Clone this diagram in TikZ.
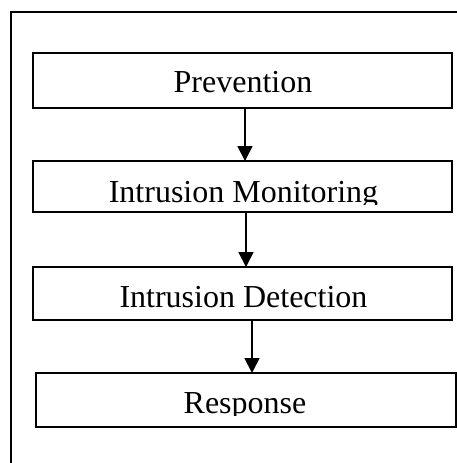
\documentclass[tikz,border=0pt]{standalone}
\usepackage{fontspec}
\setmainfont{Liberation Serif}
\usetikzlibrary{arrows.meta}

\tikzset{
  stage/.style={draw, line width=0.9pt, minimum width=209.5pt, inner sep=0pt, outer sep=0pt},
  stagetext/.style={anchor=base, inner sep=0pt, font=\fontsize{16}{19}\selectfont},
  flow/.style={line width=0.9pt, -{Triangle[width=7.5pt,length=7.5pt]}}
}

\begin{document}
\begin{tikzpicture}[x=0.5pt,y=-0.5pt]
    \useasboundingbox (0,0) rectangle (457,463);

    % --- Outer frame ---
    % only its left and top edges fall inside the page
    \coordinate (FL) at (11,463);
    \coordinate (FC) at (11,12);
    \coordinate (FR) at (457,12);
    \draw[line width=0.9pt] (FL) -- (FC) -- (FR);

    % --- Stage boxes ---
    \node[stage, minimum height=27.5pt] (prev) at (242.5,80.5) {};
    \node[stage, minimum height=25.5pt] (mon) at (242.5,186.5) {};
    \node[stage, minimum height=26.5pt] (det) at (242.5,293.5) {};
    \node[stage, minimum height=27pt, minimum width=210pt] (resp) at (246,400) {};

    % --- Stage texts ---
    \node[stagetext] (prevtext) at (243,92) {Prevention};
    \begin{scope}
        % descenders cut off by the text frame
        \clip (mon.north west) rectangle ([yshift=4pt]mon.south east);
        \node[stagetext] (montext) at (243.5,202) {Intrusion Monitoring};
    \end{scope}
    \node[stagetext] (dettext) at (243.5,307) {Intrusion Detection};
    \begin{scope}
        \clip (resp.north west) rectangle ([yshift=6pt]resp.south east);
        \node[stagetext] (resptext) at (245,413) {Response};
    \end{scope}

    % --- Arrows between stages ---
    \draw[flow] ([xshift=1.25pt]prev.south) -- ([xshift=1.25pt]mon.north);
    \draw[flow] ([xshift=1.75pt]mon.south) -- ([xshift=1.75pt]det.north);
    \draw[flow] ([xshift=4.75pt]det.south) -- ([xshift=3pt]resp.north);

\end{tikzpicture}
\end{document}
